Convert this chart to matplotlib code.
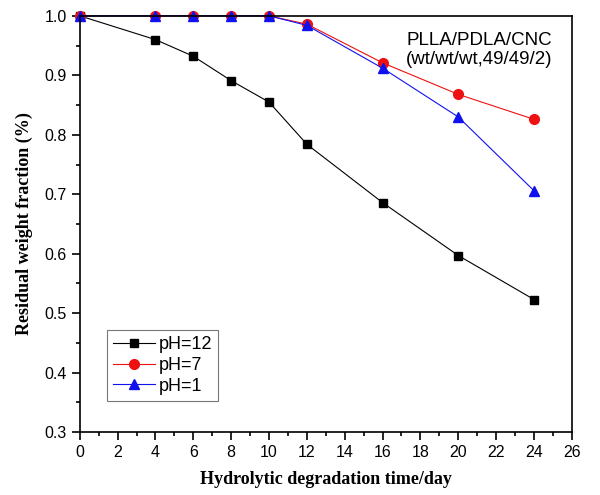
import matplotlib
matplotlib.use('Agg')
import matplotlib.pyplot as plt
from matplotlib.ticker import MultipleLocator

# data
days = [0, 4, 6, 8, 10, 12, 16, 20, 24]
ph12 = [1.0, 0.960, 0.932, 0.891, 0.855, 0.784, 0.686, 0.597, 0.523]
ph7 = [1.0, 1.0, 1.0, 1.0, 1.0, 0.986, 0.921, 0.868, 0.826]
ph1 = [1.0, 1.0, 1.0, 1.0, 1.0, 0.984, 0.912, 0.830, 0.706]
yticks = [0.3, 0.4, 0.5, 0.6, 0.7, 0.8, 0.9, 1.0]

fig = plt.figure(figsize=(6, 4.95), dpi=100)
ax = fig.add_axes([0.133, 0.127, 0.82, 0.841])

ax.plot(days, ph12, color='black', marker='s', markersize=6, lw=0.8, label='pH=12', clip_on=False)
ax.plot(days, ph7, color='#ee1111', marker='o', markersize=7, lw=0.8, label='pH=7', clip_on=False)
ax.plot(days, ph1, color='#1111ee', marker='^', markersize=7, lw=0.8, label='pH=1', clip_on=False)

ax.set_xlim(0, 26)
ax.set_ylim(0.3, 1.0)
ax.xaxis.set_major_locator(MultipleLocator(2))
ax.xaxis.set_minor_locator(MultipleLocator(1))
ax.yaxis.set_minor_locator(MultipleLocator(0.05))
ax.set_yticks(yticks)
ax.set_yticklabels([f'{v:.1f}' for v in yticks])
ax.tick_params(which='both', direction='out', width=1.2, labelsize=11.5)
ax.tick_params(which='major', length=6)
ax.tick_params(which='minor', length=3)
for lbl in ax.get_xticklabels() + ax.get_yticklabels():
    lbl.set_family('Liberation Sans')
for s in ax.spines.values():
    s.set_linewidth(1.2)

ax.set_xlabel('Hydrolytic degradation time/day', family='Liberation Serif', fontweight='bold', fontsize=13, labelpad=8)
ax.set_ylabel('Residual weight fraction (%)', family='Liberation Serif', fontweight='bold', fontsize=13, labelpad=8)

ax.text(0.961, 0.962, 'PLLA/PDLA/CNC\n(wt/wt/wt,49/49/2)', transform=ax.transAxes, ha='right', va='top',
        family='Liberation Sans', fontsize=13.5, linespacing=1.15)

leg = ax.legend(loc='lower left', bbox_to_anchor=(0.055, 0.075), borderaxespad=0, fancybox=False,
                edgecolor='#555555', prop={'family': 'Liberation Sans', 'size': 13}, handlelength=2.3,
                handletextpad=0.2, labelspacing=0.2, borderpad=0.35)
leg.get_frame().set_linewidth(0.8)

fig.savefig('out.png', dpi=100)
